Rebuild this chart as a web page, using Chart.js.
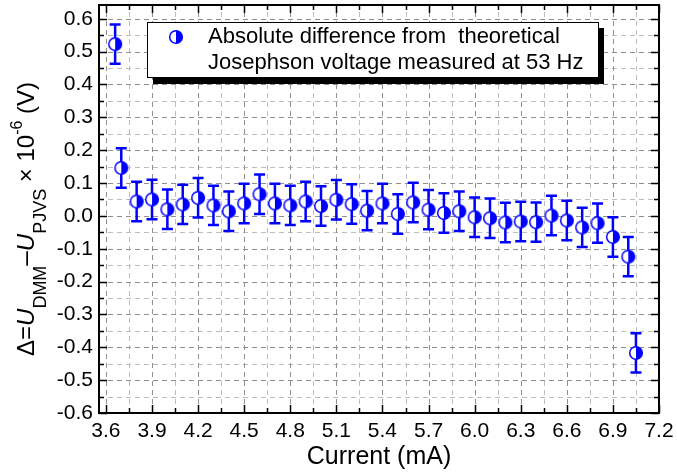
<!doctype html>
<html lang="en">
<head>
<meta charset="utf-8">
<title>PJVS difference vs current</title>
<script src="https://cdn.jsdelivr.net/npm/chart.js@4.4.0/dist/chart.umd.min.js"></script>
<style>
  body { margin: 0; background: #fff; }
  canvas { display: block; }
</style>
</head>
<body>
<canvas id="myChart" width="677" height="476"></canvas>
<script>
// values
var current = [3.66, 3.7, 3.8, 3.9, 4.0, 4.1, 4.2, 4.3, 4.4, 4.5, 4.6, 4.7, 4.8, 4.9, 5.0, 5.1, 5.2, 5.3,
               5.4, 5.5, 5.6, 5.7, 5.8, 5.9, 6.0, 6.1, 6.2, 6.3, 6.4, 6.5, 6.6, 6.7, 6.8, 6.9, 7.0, 7.05];
var delta = [0.523, 0.146, 0.044, 0.050, 0.020, 0.035, 0.055, 0.032, 0.014, 0.038, 0.066, 0.038, 0.032, 0.044,
             0.030, 0.049, 0.036, 0.016, 0.038, 0.006, 0.041, 0.019, 0.009, 0.014, -0.004, -0.007, -0.020,
             -0.017, -0.019, 0.001, -0.014, -0.035, -0.022, -0.064, -0.124, -0.417];
var deltaErr = [0.06, 0.06, 0.06, 0.06, 0.06, 0.06, 0.06, 0.06, 0.06, 0.06, 0.06, 0.06, 0.06, 0.06, 0.06, 0.06,
                0.06, 0.06, 0.06, 0.06, 0.06, 0.06, 0.06, 0.06, 0.06, 0.06, 0.06, 0.06, 0.06, 0.06, 0.06, 0.06,
                0.06, 0.06, 0.06, 0.06];
var xTicks = [3.6, 3.9, 4.2, 4.5, 4.8, 5.1, 5.4, 5.7, 6.0, 6.3, 6.6, 6.9, 7.2];
var yTicks = [-0.6, -0.5, -0.4, -0.3, -0.2, -0.1, 0.0, 0.1, 0.2, 0.3, 0.4, 0.5, 0.6];
var legendLines = ["Absolute difference from  theoretical", "Josephson voltage measured at 53 Hz"];
var xTitle = "Current (mA)";

var FONT = "'Liberation Sans', Arial, sans-serif";
var BLUE = "#0000ff";

// minor ticks sit halfway between the major ones
let halves = (arr) => arr.slice(1).map((v, i) => (v + arr[i]) / 2);
var xMinor = halves(xTicks);
var yMinor = halves(yTicks);

// half filled circle marker (left white, right blue)
let makeMarker = () => {
    let c = document.createElement("canvas");
    c.width = 16; c.height = 16;
    let g = c.getContext("2d");
    g.beginPath();
    g.arc(8, 8, 6.3, 0, Math.PI * 2);
    g.fillStyle = "#fff";
    g.fill();
    g.beginPath();
    g.arc(8, 8, 6.3, -Math.PI / 2, Math.PI / 2);
    g.closePath();
    g.fillStyle = BLUE;
    g.fill();
    g.beginPath();
    g.arc(8, 8, 6.3, 0, Math.PI * 2);
    g.strokeStyle = BLUE;
    g.lineWidth = 1.5;
    g.stroke();
    return c;
};
var marker = makeMarker();

var points = current.map((x, i) => ({ x: x, y: delta[i] }));

let gridPlugin = {
    id: "gridFrame",
    beforeDatasetsDraw(chart) {
        const { ctx, chartArea: a, scales: { x, y } } = chart;
        ctx.save();
        ctx.lineWidth = 1;
        ctx.setLineDash([5, 4]);
        let vline = (v, col) => {
            let px = Math.round(x.getPixelForValue(v)) + 0.5;
            ctx.strokeStyle = col;
            ctx.beginPath(); ctx.moveTo(px, a.bottom); ctx.lineTo(px, a.top); ctx.stroke();
        };
        let hline = (v, col) => {
            let py = Math.round(y.getPixelForValue(v)) + 0.5;
            ctx.strokeStyle = col;
            ctx.beginPath(); ctx.moveTo(a.left, py); ctx.lineTo(a.right, py); ctx.stroke();
        };
        xMinor.forEach(v => vline(v, "#bdbdbd"));
        yMinor.forEach(v => hline(v, "#bdbdbd"));
        xTicks.forEach(v => vline(v, "#8f8f8f"));
        yTicks.forEach(v => hline(v, "#8f8f8f"));
        ctx.setLineDash([]);

        // error bars
        ctx.strokeStyle = BLUE;
        ctx.lineWidth = 2.5;
        current.forEach((cx, i) => {
            let px = x.getPixelForValue(cx);
            let top = y.getPixelForValue(delta[i] + deltaErr[i]);
            let bot = y.getPixelForValue(delta[i] - deltaErr[i]);
            ctx.beginPath();
            ctx.moveTo(px, top); ctx.lineTo(px, bot);
            ctx.moveTo(px - 5.5, top); ctx.lineTo(px + 5.5, top);
            ctx.moveTo(px - 5.5, bot); ctx.lineTo(px + 5.5, bot);
            ctx.stroke();
        });
        ctx.restore();
    },
    afterDatasetsDraw(chart) {
        const { ctx, chartArea: a, scales: { x, y } } = chart;
        ctx.save();
        ctx.strokeStyle = "#000";
        ctx.lineWidth = 1.5;
        let xt = (v, len) => {
            let px = Math.round(x.getPixelForValue(v)) + 0.5;
            ctx.beginPath();
            ctx.moveTo(px, a.bottom); ctx.lineTo(px, a.bottom - len);
            ctx.moveTo(px, a.top); ctx.lineTo(px, a.top + len);
            ctx.stroke();
        };
        let yt = (v, len) => {
            let py = Math.round(y.getPixelForValue(v)) + 0.5;
            ctx.beginPath();
            ctx.moveTo(a.left, py); ctx.lineTo(a.left + len, py);
            ctx.moveTo(a.right, py); ctx.lineTo(a.right - len, py);
            ctx.stroke();
        };
        xTicks.forEach(v => xt(v, 8));
        xMinor.forEach(v => xt(v, 5));
        yTicks.forEach(v => yt(v, 8));
        yMinor.forEach(v => yt(v, 5));
        ctx.lineWidth = 2;
        ctx.strokeRect(a.left, a.top, a.right - a.left, a.bottom - a.top);
        ctx.restore();
    },
    afterDraw(chart) {
        const { ctx } = chart;
        ctx.save();
        // legend box with shadow
        let bx = 147, by = 22, bw = 451, bh = 55;
        ctx.fillStyle = "#000";
        ctx.fillRect(bx + 6, by + 6, bw, bh + 1);
        ctx.fillStyle = "#fff";
        ctx.fillRect(bx, by, bw, bh);
        ctx.strokeStyle = "#000";
        ctx.lineWidth = 1;
        ctx.strokeRect(bx + 0.5, by + 0.5, bw, bh);
        ctx.drawImage(marker, 176 - 8, 37 - 8);
        ctx.fillStyle = "#000";
        ctx.font = "22px " + FONT;
        ctx.textBaseline = "middle";
        ctx.textAlign = "left";
        ctx.fillText(legendLines[0], 208, 37);
        ctx.fillText(legendLines[1], 208, 63);

        // y axis title with sub/superscripts
        ctx.translate(34, 356);
        ctx.rotate(-Math.PI / 2);
        ctx.textBaseline = "alphabetic";
        let px = 0;
        let part = (t, font, dy) => {
            ctx.font = font;
            ctx.fillText(t, px, dy);
            px += ctx.measureText(t).width;
        };
        let main = "24px " + FONT, ital = "italic 24px " + FONT, sub = "18px " + FONT;
        part("\u0394=", main, 0);
        part("U", ital, 0);
        part("DMM", sub, 12);
        part("\u2013", "26px " + FONT, 0);
        part("U", ital, 0);
        part("PJVS", sub, 12);
        part(" \u00d7 10", main, 0);
        part("-6", "16px " + FONT, -12);
        part(" (V)", main, 0);
        ctx.restore();
    }
};

var ctx = document.getElementById("myChart");
var myChart = new Chart(ctx, {
    type: "scatter",
    data: {
        datasets: [{
            label: "Absolute difference",
            data: points,
            pointStyle: marker,
            borderColor: BLUE,
            backgroundColor: BLUE
        }]
    },
    options: {
        responsive: false,
        animation: false,
        layout: { padding: { top: 1, right: 18, left: 0, bottom: 0 } },
        plugins: { legend: { display: false }, tooltip: { enabled: false } },
        scales: {
            x: {
                type: "linear",
                min: 3.555,
                max: 7.2,
                afterBuildTicks: (axis) => { axis.ticks = xTicks.map(v => ({ value: v })); },
                afterFit: (axis) => {
                    axis.height = 63;
                    axis.paddingLeft = 0;
                    axis.paddingRight = 0;
                },
                grid: { display: false, drawTicks: false },
                border: { display: false },
                ticks: {
                    padding: 6,
                    color: "#000",
                    font: { family: FONT, size: 21 },
                    maxRotation: 0,
                    callback: (v) => v.toFixed(1)
                },
                title: { display: true, text: xTitle, color: "#000", font: { family: FONT, size: 25 }, padding: 4 }
            },
            y: {
                type: "linear",
                min: -0.6,
                max: 0.642,
                afterBuildTicks: (axis) => { axis.ticks = yTicks.map(v => ({ value: v })); },
                afterFit: (axis) => {
                    axis.width = 99;
                    axis.paddingTop = 0;
                    axis.paddingBottom = 0;
                },
                grid: { display: false, drawTicks: false },
                border: { display: false },
                ticks: {
                    padding: 6,
                    color: "#000",
                    font: { family: FONT, size: 21 },
                    callback: (v) => v.toFixed(1)
                }
            }
        }
    },
    plugins: [gridPlugin]
});
</script>
</body>
</html>
